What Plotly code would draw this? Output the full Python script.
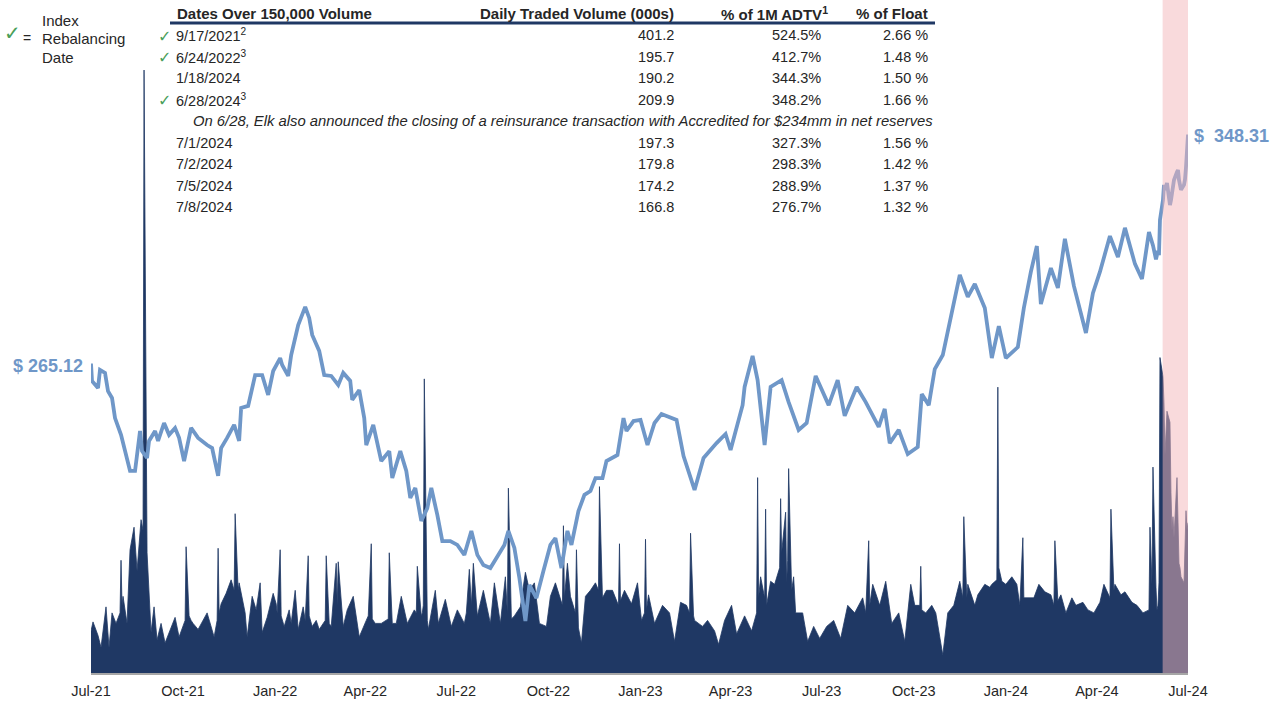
import pandas as pd
import plotly.graph_objects as go

# ---------------- data ----------------
# daily traded volume (000s), dates outside the 150k table
vol_dates = [
    "2021-07-26", "2021-07-28", "2021-08-02", "2021-08-05", "2021-08-10", "2021-08-13", "2021-08-16",
    "2021-08-20", "2021-08-24", "2021-08-25", "2021-08-26", "2021-08-27", "2021-08-31", "2021-09-03",
    "2021-09-07", "2021-09-10", "2021-09-14", "2021-09-16", "2021-09-20", "2021-09-24", "2021-09-27",
    "2021-09-30", "2021-10-04", "2021-10-08", "2021-10-14", "2021-10-18", "2021-10-22", "2021-10-28",
    "2021-10-29", "2021-11-01", "2021-11-03", "2021-11-05", "2021-11-10", "2021-11-16", "2021-11-19",
    "2021-11-26", "2021-11-29", "2021-11-30", "2021-12-01", "2021-12-03", "2021-12-08", "2021-12-13",
    "2021-12-16", "2021-12-17", "2021-12-20", "2021-12-21", "2021-12-27", "2021-12-29",
    "2022-01-03", "2022-01-07", "2022-01-11", "2022-01-13", "2022-01-18", "2022-01-24", "2022-01-27",
    "2022-01-28", "2022-01-31", "2022-02-01", "2022-02-04", "2022-02-09", "2022-02-11", "2022-02-15",
    "2022-02-18", "2022-02-23", "2022-02-25", "2022-02-28", "2022-03-01", "2022-03-04", "2022-03-08",
    "2022-03-11", "2022-03-17", "2022-03-18", "2022-03-21", "2022-03-23", "2022-03-28", "2022-03-29",
    "2022-03-30", "2022-04-04", "2022-04-08", "2022-04-14", "2022-04-20", "2022-04-27", "2022-04-29",
    "2022-05-02", "2022-05-03", "2022-05-06", "2022-05-12", "2022-05-19", "2022-05-20", "2022-05-23",
    "2022-05-27", "2022-06-01", "2022-06-07", "2022-06-14", "2022-06-16", "2022-06-17", "2022-06-21",
    "2022-06-22", "2022-06-23", "2022-06-27", "2022-06-28", "2022-07-05", "2022-07-08", "2022-07-15",
    "2022-07-21", "2022-07-27", "2022-08-03", "2022-08-05", "2022-08-08", "2022-08-10", "2022-08-12",
    "2022-08-16", "2022-08-22", "2022-08-29", "2022-09-02", "2022-09-08", "2022-09-13", "2022-09-15",
    "2022-09-16", "2022-09-19", "2022-09-22", "2022-09-28", "2022-10-03", "2022-10-07", "2022-10-12",
    "2022-10-17", "2022-10-24", "2022-10-28", "2022-11-02", "2022-11-09", "2022-11-10", "2022-11-11",
    "2022-11-14", "2022-11-17", "2022-11-22", "2022-11-23", "2022-11-25", "2022-11-28", "2022-12-02",
    "2022-12-07", "2022-12-12", "2022-12-15", "2022-12-16", "2022-12-19", "2022-12-23", "2022-12-29",
    "2023-01-04", "2023-01-05", "2023-01-06", "2023-01-10", "2023-01-17", "2023-01-23", "2023-01-27",
    "2023-01-30", "2023-01-31", "2023-02-01", "2023-02-03", "2023-02-09", "2023-02-17", "2023-02-24",
    "2023-03-01", "2023-03-07", "2023-03-13", "2023-03-16", "2023-03-17", "2023-03-20", "2023-03-21",
    "2023-03-29", "2023-04-03", "2023-04-10", "2023-04-14", "2023-04-20", "2023-04-27", "2023-05-02",
    "2023-05-10", "2023-05-17", "2023-05-22", "2023-05-23", "2023-05-24", "2023-05-26", "2023-05-30",
    "2023-05-31", "2023-06-01", "2023-06-05", "2023-06-09", "2023-06-14", "2023-06-15", "2023-06-16",
    "2023-06-20", "2023-06-21", "2023-06-22", "2023-06-23", "2023-06-26", "2023-06-28", "2023-06-30",
    "2023-07-07", "2023-07-12", "2023-07-18", "2023-07-24", "2023-07-31", "2023-08-07", "2023-08-14",
    "2023-08-21", "2023-08-28", "2023-09-05", "2023-09-08", "2023-09-11", "2023-09-12", "2023-09-15",
    "2023-09-22", "2023-09-28", "2023-10-04", "2023-10-11", "2023-10-17", "2023-10-23", "2023-10-27",
    "2023-11-01", "2023-11-02", "2023-11-03", "2023-11-07", "2023-11-13", "2023-11-17", "2023-11-24",
    "2023-11-29", "2023-12-05", "2023-12-11", "2023-12-14", "2023-12-15", "2023-12-18", "2023-12-19",
    "2023-12-26", "2023-12-29",
    "2024-01-05", "2024-01-10", "2024-01-12", "2024-01-17", "2024-01-19", "2024-01-22", "2024-01-26",
    "2024-02-01", "2024-02-06", "2024-02-09", "2024-02-12", "2024-02-13", "2024-02-16", "2024-02-23",
    "2024-02-28", "2024-03-05", "2024-03-11", "2024-03-14", "2024-03-15", "2024-03-18", "2024-03-21",
    "2024-03-26", "2024-04-01", "2024-04-05", "2024-04-12", "2024-04-17", "2024-04-23", "2024-04-29",
    "2024-05-03", "2024-05-09", "2024-05-10", "2024-05-13", "2024-05-14", "2024-05-20", "2024-05-24",
    "2024-05-31", "2024-06-05", "2024-06-11", "2024-06-17", "2024-06-18", "2024-06-20", "2024-06-21",
    "2024-06-24", "2024-06-25", "2024-06-26", "2024-06-27", "2024-07-03", "2024-07-09", "2024-07-10",
    "2024-07-11", "2024-07-12", "2024-07-15", "2024-07-16", "2024-07-17", "2024-07-18", "2024-07-19",
    "2024-07-22", "2024-07-23", "2024-07-24", "2024-07-25", "2024-07-26",
]
vol_values = [
    28, 34, 25, 17, 44, 17, 40,
    33, 40, 75, 45, 51, 33, 82,
    97, 68, 102, 95, 80, 27, 44,
    22, 33, 20, 31, 37, 24, 35,
    84, 38, 35, 33, 29, 37, 40,
    24, 35, 83, 40, 46, 53, 62,
    55, 106, 55, 60, 40, 24,
    51, 42, 60, 27, 37, 53, 46,
    40, 82, 38, 31, 42, 33, 55,
    29, 44, 35, 78, 38, 31, 35,
    29, 35, 78, 33, 31, 73, 45,
    74, 31, 42, 51, 24, 35, 38,
    86, 36, 33, 33, 36, 80, 33,
    33, 51, 33, 42, 40, 71, 38,
    40, 45, 35, 29, 55, 33, 49,
    31, 42, 33, 40, 69, 45, 73,
    38, 55, 33, 60, 33, 64, 40,
    123, 36, 38, 44, 67, 55, 60,
    33, 31, 51, 60, 45, 98, 50,
    73, 51, 40, 82, 30, 20, 51,
    55, 60, 55, 124, 50, 55, 55,
    45, 86, 48, 55, 46, 60, 35,
    40, 89, 42, 52, 33, 45, 40,
    21, 47, 45, 40, 93, 38, 35,
    31, 35, 28, 19, 35, 45, 26,
    38, 28, 40, 130, 50, 64, 50,
    109, 45, 61, 59, 70, 116, 80,
    107, 60, 75, 136, 55, 64, 40,
    40, 21, 31, 23, 31, 35, 23,
    45, 40, 50, 40, 88, 45, 59,
    45, 61, 33, 40, 21, 59, 45,
    45, 71, 42, 40, 45, 40, 12,
    40, 45, 61, 50, 104, 50, 59,
    45, 52,
    59, 57, 59, 62, 70, 61, 59,
    64, 59, 45, 90, 50, 50, 50,
    59, 54, 52, 45, 88, 48, 52,
    40, 50, 45, 47, 42, 40, 47,
    59, 50, 109, 55, 59, 52, 54,
    47, 45, 40, 42, 97, 59, 137,
    57, 42, 45, 60, 145, 120, 95,
    104, 90, 130, 100, 73, 70, 64,
    60, 80, 108, 95, 100,
]

# closing share price ($)
price_dates = [
    "2021-07-26", "2021-07-27", "2021-08-02", "2021-08-04", "2021-08-09", "2021-08-12", "2021-08-16",
    "2021-08-19", "2021-08-25", "2021-08-30", "2021-09-03", "2021-09-08", "2021-09-13", "2021-09-15",
    "2021-09-20", "2021-09-22", "2021-09-28", "2021-10-01", "2021-10-07", "2021-10-12", "2021-10-18",
    "2021-10-22", "2021-10-27", "2021-11-03", "2021-11-10", "2021-11-19", "2021-11-24", "2021-11-30",
    "2021-12-03", "2021-12-09", "2021-12-16", "2021-12-21", "2021-12-23", "2021-12-30",
    "2022-01-06", "2022-01-13", "2022-01-19", "2022-01-24", "2022-01-31", "2022-02-02", "2022-02-08",
    "2022-02-11", "2022-02-15", "2022-02-18", "2022-02-25", "2022-03-01", "2022-03-04", "2022-03-11",
    "2022-03-16", "2022-03-23", "2022-03-30", "2022-04-04", "2022-04-11", "2022-04-13", "2022-04-20",
    "2022-04-25", "2022-04-27", "2022-05-04", "2022-05-12", "2022-05-20", "2022-05-23", "2022-05-31",
    "2022-06-06", "2022-06-10", "2022-06-15", "2022-06-21", "2022-06-27", "2022-07-01", "2022-07-07",
    "2022-07-12", "2022-07-20", "2022-07-27", "2022-08-03", "2022-08-10", "2022-08-16", "2022-08-22",
    "2022-08-29", "2022-09-06", "2022-09-12", "2022-09-16", "2022-09-22", "2022-09-27", "2022-10-03",
    "2022-10-07", "2022-10-14", "2022-10-21", "2022-10-28", "2022-11-02", "2022-11-08", "2022-11-14",
    "2022-11-18", "2022-11-25", "2022-12-01", "2022-12-07", "2022-12-12", "2022-12-19", "2022-12-23",
    "2023-01-03", "2023-01-09", "2023-01-12", "2023-01-19", "2023-01-26", "2023-02-02", "2023-02-09",
    "2023-02-16", "2023-03-03", "2023-03-10", "2023-03-21", "2023-03-30", "2023-04-12", "2023-04-21",
    "2023-04-26", "2023-05-01", "2023-05-08", "2023-05-10", "2023-05-18", "2023-05-23", "2023-05-30",
    "2023-06-05", "2023-06-16", "2023-06-23", "2023-07-03", "2023-07-11", "2023-07-20", "2023-08-02",
    "2023-08-11", "2023-08-18", "2023-08-30", "2023-09-08", "2023-09-21", "2023-09-27", "2023-10-02",
    "2023-10-11", "2023-10-20", "2023-10-30", "2023-11-03", "2023-11-10", "2023-11-16", "2023-11-24",
    "2023-12-01", "2023-12-11", "2023-12-19", "2023-12-26",
    "2024-01-05", "2024-01-12", "2024-01-19", "2024-01-26", "2024-02-07", "2024-02-13", "2024-02-20",
    "2024-02-26", "2024-03-01", "2024-03-11", "2024-03-18", "2024-03-25", "2024-04-03", "2024-04-15",
    "2024-04-22", "2024-04-29", "2024-05-09", "2024-05-17", "2024-05-24", "2024-06-03", "2024-06-10",
    "2024-06-17", "2024-06-21", "2024-06-24", "2024-06-26", "2024-06-27", "2024-06-28", "2024-07-01",
    "2024-07-02", "2024-07-03", "2024-07-05", "2024-07-08", "2024-07-09", "2024-07-10", "2024-07-11",
    "2024-07-12", "2024-07-15", "2024-07-16", "2024-07-17", "2024-07-18", "2024-07-19", "2024-07-22",
    "2024-07-23", "2024-07-24", "2024-07-25", "2024-07-26",
]
price_values = [
    265.12, 258.8, 256.2, 262.8, 261.7, 255.1, 252.6,
    245.3, 239.2, 231.9, 226.1, 226.1, 240.6, 233.3,
    230.8, 237.0, 240.6, 237.0, 243.5, 239.2, 241.7,
    238.1, 229.7, 241.7, 238.1, 235.5, 234.4, 224.3,
    234.4, 238.1, 242.8, 237.0, 249.0, 249.7,
    260.9, 260.9, 253.7, 262.4, 267.1, 264.6, 260.6,
    268.2, 274.4, 279.1, 285.7, 281.7, 275.5, 269.7,
    260.9, 260.6, 257.3, 261.7, 258.8, 251.9, 255.5,
    245.3, 235.5, 242.8, 229.7, 233.3, 223.5, 233.3,
    226.1, 216.3, 219.9, 207.9, 212.6, 219.9, 210.1,
    200.6, 200.6, 199.2, 195.6, 204.3, 195.6, 191.9,
    190.8, 195.6, 199.2, 204.3, 198.1, 187.2, 171.6,
    184.7, 179.9, 189.7, 199.2, 201.7, 190.8, 204.3,
    199.2, 211.5, 217.4, 218.8, 223.5, 223.5, 229.7,
    231.9, 245.3, 240.6, 244.2, 244.6, 235.5, 243.5,
    246.8, 244.6, 231.5, 219.2, 230.8, 236.2, 239.5,
    233.7, 241.0, 250.0, 256.6, 267.9, 259.1, 235.5,
    256.6, 259.1, 251.1, 241.0, 243.5, 260.6, 250.0,
    259.1, 246.1, 256.6, 251.1, 242.1, 248.6, 236.2,
    241.0, 232.2, 234.8, 254.0, 250.0, 263.1, 268.2,
    280.2, 297.3, 289.3, 294.0,
    285.3, 267.1, 278.7, 267.1, 271.1, 285.3, 298.4,
    307.8, 286.7, 299.8, 292.6, 310.4, 293.3, 276.2,
    290.7, 298.4, 311.4, 303.8, 314.4, 301.3, 295.8,
    312.9, 308.0, 303.0, 306.0, 304.5, 317.3, 324.5,
    330.0, 328.2, 330.7, 322.7, 324.5, 327.0, 328.2,
    331.8, 334.7, 335.4, 331.8, 328.9, 328.2, 330.0,
    332.0, 336.5, 342.0, 348.31,
]

# dates over 150,000 shares traded
table_dates = ["2021-09-17", "2022-06-24", "2024-01-18", "2024-06-28",
               "2024-07-01", "2024-07-02", "2024-07-05", "2024-07-08"]
table_labels = ["9/17/2021", "6/24/2022", "1/18/2024", "6/28/2024",
                "7/1/2024", "7/2/2024", "7/5/2024", "7/8/2024"]
table_notes = ["2", "3", "", "3", "", "", "", ""]
table_rebalance = [True, True, False, True, False, False, False, False]
table_volume = [401.2, 195.7, 190.2, 209.9, 197.3, 179.8, 174.2, 166.8]
table_adtv = [524.5, 412.7, 344.3, 348.2, 327.3, 298.3, 288.9, 276.7]
table_float = [2.66, 1.48, 1.50, 1.66, 1.56, 1.42, 1.37, 1.32]

table_note = ("On 6/28, Elk also announced the closing of a reinsurance transaction "
              "with Accredited for $234mm in net reserves")

band_start = "2024-06-30 16:00"
first_day, last_day = "2021-07-26", "2024-07-26"

# ---------------- styling ----------------
W, H = 1287, 709
ML, MR, MT, MB = 91, 99, 0, 36
PW, PH = W - ML - MR, H - MT - MB
FONT = "Liberation Sans, Arial, sans-serif"
NAVY = "#1F3864"
STEEL = "#6F97C8"
GREEN = "#4A9F5A"
TEXT = "#262626"

VOL_MAX = 447.8          # volume axis top (000s)
PRICE_RANGE = [152.68, 397.18]

# merge table volumes into the daily series
vol = pd.concat([
    pd.Series(vol_values, index=pd.to_datetime(vol_dates)),
    pd.Series(table_volume, index=pd.to_datetime(table_dates)),
]).sort_index()
price = pd.Series(price_values, index=pd.to_datetime(price_dates))

fig = go.Figure()
fig.add_trace(go.Scatter(
    x=vol.index, y=vol.values, mode="lines", fill="tozeroy",
    line=dict(color=NAVY, width=0.8), fillcolor=NAVY,
    yaxis="y", hoverinfo="skip", showlegend=False,
))
fig.add_trace(go.Scatter(
    x=price.index, y=price.values, mode="lines",
    line=dict(color=STEEL, width=3.8), yaxis="y2",
    hoverinfo="skip", showlegend=False,
))

# highlight band after 6/28/2024
fig.add_shape(type="rect", xref="x", yref="paper",
              x0=band_start, x1=last_day, y0=0, y1=1,
              fillcolor="#F4B6B9", opacity=0.5, line_width=0, layer="above")


def px_x(px):
    return (px - ML) / PW


def px_y(py):
    return (H - MB - py) / PH


annotations = []


def note(px, py, text, anchor="left", size=15, color=TEXT, family=FONT):
    annotations.append(dict(
        x=px_x(px), y=px_y(py), xref="paper", yref="paper", text=text,
        showarrow=False, xanchor=anchor, yanchor="middle",
        font=dict(family=family, size=size, color=color),
    ))


# legend for the check mark
note(12, 33, "✓", anchor="center", size=20, color=GREEN, family="DejaVu Sans")
note(27, 38, "=", anchor="center", size=14)
note(40, 20, "Index")
note(40, 38, "Rebalancing")
note(40, 57, "Date")

# table header
HEAD_Y = 13
note(175, HEAD_Y, "<b>Dates Over 150,000 Volume</b>", size=15)
note(676, HEAD_Y, "<b>Daily Traded Volume (000s)</b>", anchor="right", size=15)
note(830, HEAD_Y, "<b>% of 1M ADTV<sup>1</sup></b>", anchor="right", size=15)
note(930, HEAD_Y, "<b>% of Float</b>", anchor="right", size=15)
fig.add_shape(type="line", xref="paper", yref="paper",
              x0=px_x(170), x1=px_x(935), y0=px_y(23), y1=px_y(23),
              line=dict(color=NAVY, width=3))

ROW0, STEP = 35, 21.55
slot = 0
for i, label in enumerate(table_labels):
    y = ROW0 + STEP * slot
    sup = f"<sup>{table_notes[i]}</sup>" if table_notes[i] else ""
    if table_rebalance[i]:
        note(164, y + 1, "✓", anchor="center", size=16, color=GREEN, family="DejaVu Sans")
    note(174, y, label + sup, size=14.5)
    note(676, y, f"{table_volume[i]:.1f}", anchor="right", size=14.5)
    note(823, y, f"{table_adtv[i]:.1f}%", anchor="right", size=14.5)
    note(930, y, f"{table_float[i]:.2f} %", anchor="right", size=14.5)
    slot += 1
    if label == "6/28/2024":
        note(935, ROW0 + STEP * slot, f"<i>{table_note}</i>", anchor="right", size=14.8)
        slot += 1

# price end labels
note(85, 366, f"<b>$ {price_values[0]:.2f}</b>", anchor="right", size=18, color=STEEL)
note(1192, 136, f"<b>$  {price_values[-1]:.2f}</b>", anchor="left", size=18, color=STEEL)

tickvals = pd.date_range(first_day, last_day, freq=pd.DateOffset(months=3))

fig.update_layout(
    width=W, height=H,
    margin=dict(l=ML, r=MR, t=MT, b=MB, pad=0),
    paper_bgcolor="white", plot_bgcolor="white",
    showlegend=False,
    annotations=annotations,
    xaxis=dict(
        type="date", range=[first_day, last_day],
        tickvals=list(tickvals), tickformat="%b-%y",
        showgrid=False, zeroline=False, ticks="",
        showline=True, linecolor="#A6A6A6", linewidth=2,
        ticklabelstandoff=4,
        tickfont=dict(family=FONT, size=14.5, color=TEXT),
    ),
    yaxis=dict(range=[0, VOL_MAX], visible=False, showgrid=False, zeroline=False),
    yaxis2=dict(range=PRICE_RANGE, overlaying="y", visible=False,
                showgrid=False, zeroline=False),
)

fig.write_html("out.html")
